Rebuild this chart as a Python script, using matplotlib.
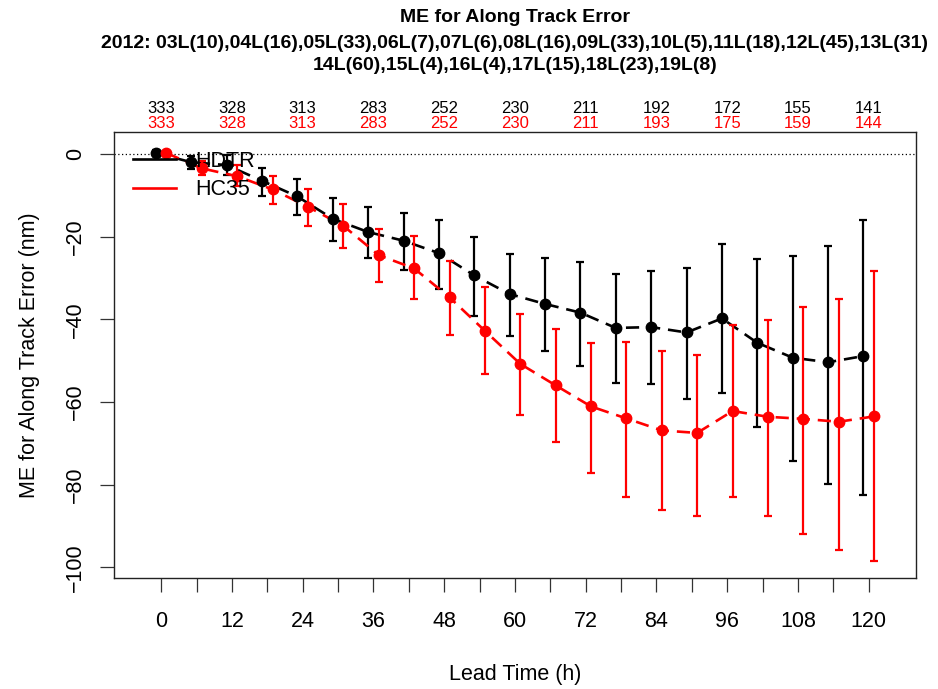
import numpy as np
import matplotlib
matplotlib.use("Agg")
import matplotlib.pyplot as plt
from matplotlib.lines import Line2D

plt.rcParams["font.family"] = ["Liberation Sans", "DejaVu Sans"]

# lead times (h) and sample counts shown above the plot
LEAD = [0, 6, 12, 18, 24, 30, 36, 42, 48, 54, 60, 66, 72, 78, 84, 90, 96, 102, 108, 114, 120]
COUNT_HOURS = [0, 12, 24, 36, 48, 60, 72, 84, 96, 108, 120]
HDTR_N = [333, 328, 313, 283, 252, 230, 211, 192, 172, 155, 141]
HC35_N = [333, 328, 313, 283, 252, 230, 211, 193, 175, 159, 144]

# HDTR mean and interval ends
HDTR_ME = [0.2, -2.0, -2.7, -6.5, -10.3, -15.7, -18.9, -21.0, -24.0, -29.4, -33.9,
           -36.3, -38.4, -42.1, -41.9, -43.2, -39.8, -45.7, -49.3, -50.4, -48.9]
HDTR_HI = [1.0, -0.5, -0.3, -3.3, -6.0, -10.6, -12.9, -14.4, -16.0, -20.2, -24.2,
           -25.2, -26.1, -29.1, -28.3, -27.7, -21.9, -25.4, -24.8, -22.2, -16.0]
HDTR_LO = [-0.6, -3.7, -5.2, -10.2, -14.8, -21.1, -25.2, -28.1, -32.7, -39.1, -44.1,
           -47.7, -51.2, -55.4, -55.7, -59.2, -57.8, -66.1, -74.3, -79.8, -82.5]

# HC35 mean and interval ends
HC35_ME = [0.2, -3.5, -5.4, -8.6, -12.8, -17.4, -24.5, -27.7, -34.7, -42.8, -50.8,
           -56.0, -61.1, -64.0, -66.9, -67.5, -62.2, -63.6, -64.1, -64.8, -63.5]
HC35_HI = [0.8, -1.8, -2.7, -5.3, -8.5, -12.2, -18.1, -19.8, -25.9, -32.3, -38.8,
           -42.4, -45.8, -45.6, -47.7, -48.6, -41.5, -40.2, -37.0, -35.2, -28.4]
HC35_LO = [-0.4, -5.2, -7.7, -12.2, -17.5, -22.8, -31.1, -35.2, -43.9, -53.2, -63.1,
           -69.8, -77.3, -83.1, -86.2, -87.7, -83.1, -87.6, -92.0, -95.9, -98.6]

TITLE_LINES = [
    "ME for Along Track Error",
    "2012: 03L(10),04L(16),05L(33),06L(7),07L(6),08L(16),09L(33),10L(5),11L(18),12L(45),13L(31)",
    "14L(60),15L(4),16L(4),17L(15),18L(23),19L(8)",
]

SHIFT = 0.9  # horizontal offset so the two models don't overlap

fig = plt.figure(figsize=(9.38, 6.89), dpi=100)
ax = fig.add_axes([0.1215, 0.1611, 0.855, 0.6473])

lead = np.array(LEAD, dtype=float)
for name, me, hi, lo, color, dx in [
    ("HDTR", HDTR_ME, HDTR_HI, HDTR_LO, "black", -SHIFT),
    ("HC35", HC35_ME, HC35_HI, HC35_LO, "red", SHIFT),
]:
    me = np.array(me)
    yerr = [me - np.array(lo), np.array(hi) - me]
    xs = lead + dx
    ax.plot(xs, me, color=color, linewidth=1.9, dashes=(5, 3))
    ax.errorbar(xs, me, yerr=yerr, fmt="o", color=color, markersize=7.5,
                elinewidth=1.6, capsize=2.8, capthick=1.6)

ax.axhline(0, color="black", linewidth=0.9, linestyle=(0, (1, 2)))

ax.set_xlim(-8, 128)
ax.set_ylim(-102.6, 5.3)

ax.set_xticks(LEAD)
ax.set_xticklabels([str(h) if h % 12 == 0 else "" for h in LEAD])
ax.set_yticks([0, -20, -40, -60, -80, -100])
ax.set_yticklabels(["0", "\u221220", "\u221240", "\u221260", "\u221280", "\u2212100"],
                   rotation=90, va="center")
ax.tick_params(axis="both", direction="out", length=10, width=0.9,
               labelsize=15.5, color="#333333")
ax.tick_params(axis="x", pad=14)
ax.tick_params(axis="y", pad=10)
for sp in ax.spines.values():
    sp.set_linewidth(1.0)
    sp.set_color("#222222")

ax.set_xlabel("Lead Time (h)", fontsize=15.5, labelpad=23)
ax.set_ylabel("ME for Along Track Error (nm)", fontsize=15.5, labelpad=18)

# sample counts above the plot
trans = ax.get_xaxis_transform()
for h, nb, nr in zip(COUNT_HOURS, HDTR_N, HC35_N):
    ax.text(h, 1.053, str(nb), transform=trans, ha="center", va="center",
            fontsize=12, color="black")
    ax.text(h, 1.020, str(nr), transform=trans, ha="center", va="center",
            fontsize=12, color="red")

handles = [Line2D([], [], color="black", linewidth=1.9),
           Line2D([], [], color="red", linewidth=1.9)]
ax.legend(handles, ["HDTR", "HC35"], loc="upper left", bbox_to_anchor=(0.0237, 0.958),
          frameon=False, fontsize=15.5, handlelength=2.0, handletextpad=0.9,
          labelspacing=0.34, borderpad=0, borderaxespad=0)

for i, (line, ypx) in enumerate(zip(TITLE_LINES, [18, 43, 65])):
    fig.text(0.549, 1 - ypx / 689, line, ha="center", va="center", fontsize=14,
             fontweight="bold")

fig.savefig("out.png", dpi=100)
